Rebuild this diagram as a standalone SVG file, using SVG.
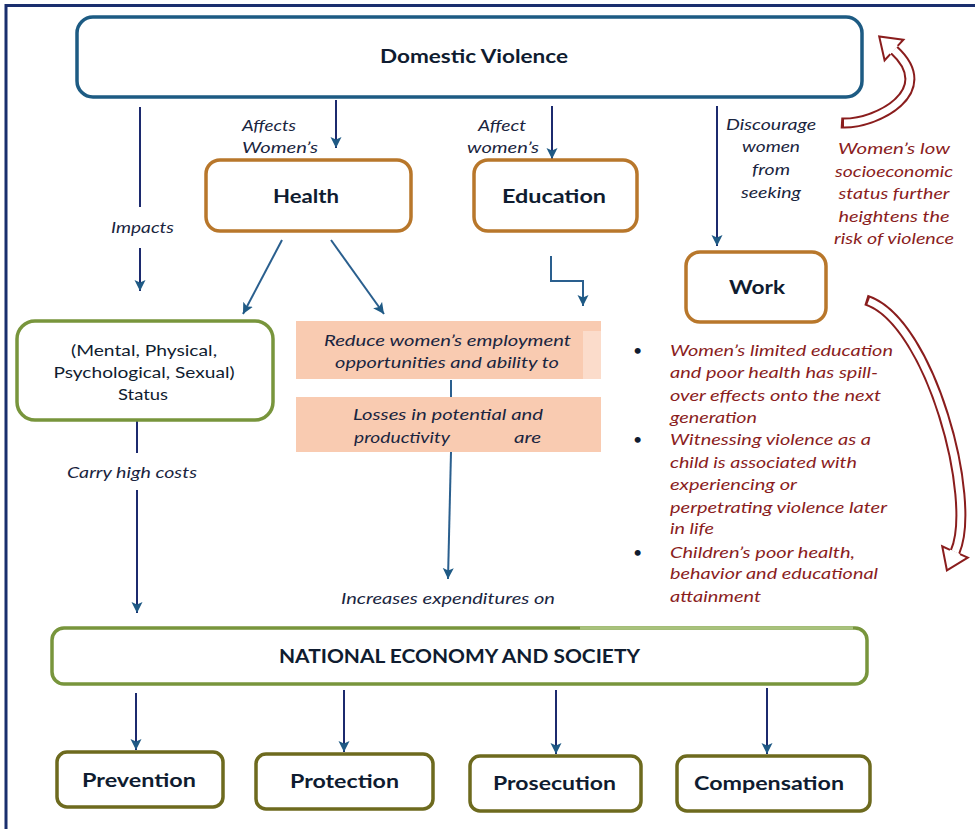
<svg xmlns="http://www.w3.org/2000/svg" width="975" height="829" viewBox="0 0 975 829">
<defs>
<style>
.bx{fill:#fff;stroke-width:3.5}
.dv{stroke:#1d5b83}
.or{stroke:#b8772b}
.gr{stroke:#78953c}
.ol{stroke:#6d6a1e}
text{font-family:Lato,"Liberation Sans",sans-serif}
.t{font-weight:700;fill:#0f1c30;font-size:18.5px}
.r{font-size:16px;fill:#0f1c30}
.i{font-style:italic;font-size:16px;fill:#1a2540}
.red{font-style:italic;font-size:16px;fill:#8a1d1d}
.ln{fill:none;stroke:#1c2a6e;stroke-width:2}
.lb{fill:none;stroke:#2a5f8e;stroke-width:2}
.rs{fill:none;stroke:#8a1d1d;stroke-width:11}
.ws{fill:none;stroke:#fff;stroke-width:7}
.hd{fill:#fff;stroke:#8a1d1d;stroke-width:2;stroke-linejoin:miter}
</style>
<marker id="ah" markerUnits="userSpaceOnUse" markerWidth="12" markerHeight="12" refX="11" refY="5.5" orient="auto">
<path d="M0,0 L11,5.5 L0,11 L2.5,5.5 Z" fill="#1f5a85"/>
</marker>
</defs>
<rect width="975" height="829" fill="#fff"/>
<path d="M6,829 V5.5 H975" fill="none" stroke="#1a2f6e" stroke-width="3"/>

<g id="connectors">
<line class="ln" x1="140" y1="107" x2="140" y2="207"/>
<line class="ln" x1="140" y1="248" x2="140" y2="291" marker-end="url(#ah)"/>
<line class="ln" x1="336" y1="100" x2="336" y2="148" marker-end="url(#ah)"/>
<line class="ln" x1="552" y1="106" x2="552" y2="159" marker-end="url(#ah)"/>
<line class="ln" x1="717" y1="106" x2="717" y2="246" marker-end="url(#ah)"/>
<line class="lb" x1="282" y1="240" x2="243" y2="314" marker-end="url(#ah)"/>
<line class="lb" x1="331" y1="240" x2="384" y2="314" marker-end="url(#ah)"/>
<path class="lb" d="M551,256 V281 H583 V306" marker-end="url(#ah)"/>
<line class="ln" x1="137" y1="421" x2="137" y2="453"/>
<line class="ln" x1="137" y1="490" x2="137" y2="613" marker-end="url(#ah)"/>
<line class="lb" x1="451" y1="380" x2="451" y2="397"/>
<line class="lb" x1="451" y1="452" x2="448" y2="579" marker-end="url(#ah)"/>
<line class="ln" x1="136" y1="693" x2="136" y2="750" marker-end="url(#ah)"/>
<line class="ln" x1="344" y1="690" x2="344" y2="752" marker-end="url(#ah)"/>
<line class="ln" x1="556" y1="690" x2="556" y2="754" marker-end="url(#ah)"/>
<line class="ln" x1="767" y1="688" x2="767" y2="754" marker-end="url(#ah)"/>
</g>

<g id="labels">
<text class="i" x="242" y="131" textLength="54" lengthAdjust="spacingAndGlyphs">Affects</text>
<text class="i" x="242" y="153" textLength="76" lengthAdjust="spacingAndGlyphs">Women’s</text>
<text class="i" x="478" y="131" textLength="48" lengthAdjust="spacingAndGlyphs">Affect</text>
<text class="i" x="467" y="153" textLength="72" lengthAdjust="spacingAndGlyphs">women’s</text>
<text class="i" x="111" y="233" textLength="63" lengthAdjust="spacingAndGlyphs">Impacts</text>
<text class="i" x="771" y="130" text-anchor="middle" textLength="90" lengthAdjust="spacingAndGlyphs">Discourage</text>
<text class="i" x="771" y="152" text-anchor="middle" textLength="58" lengthAdjust="spacingAndGlyphs">women</text>
<text class="i" x="771" y="175" text-anchor="middle" textLength="38" lengthAdjust="spacingAndGlyphs">from</text>
<text class="i" x="771" y="198" text-anchor="middle" textLength="60" lengthAdjust="spacingAndGlyphs">seeking</text>
<text class="i" x="67" y="478" textLength="130" lengthAdjust="spacingAndGlyphs">Carry high costs</text>
<text class="i" x="341" y="604" textLength="214" lengthAdjust="spacingAndGlyphs">Increases expenditures on</text>
</g>

<g id="feedback-top">
<path class="rs" d="M841,123 C875,125 940,92 894,50"/>
<path class="ws" pathLength="100" stroke-dasharray="0 2.5 200" d="M841,123 C875,125 940,92 894,50"/>
<polygon points="897.7,45.9 903.4,39.7 879.2,36.5 884.6,60.3 890.3,54.1" fill="#fff"/>
<path class="hd" d="M897.7,45.9 L903.4,39.7 L879.2,36.5 L884.6,60.3 L890.3,54.1"/>
<text class="red" x="894" y="154" text-anchor="middle" textLength="112" lengthAdjust="spacingAndGlyphs">Women’s low</text>
<text class="red" x="894" y="177" text-anchor="middle" textLength="118" lengthAdjust="spacingAndGlyphs">socioeconomic</text>
<text class="red" x="894" y="199" text-anchor="middle" textLength="111" lengthAdjust="spacingAndGlyphs">status further</text>
<text class="red" x="894" y="222" text-anchor="middle" textLength="111" lengthAdjust="spacingAndGlyphs">heightens the</text>
<text class="red" x="894" y="244" text-anchor="middle" textLength="120" lengthAdjust="spacingAndGlyphs">risk of violence</text>
</g>

<g id="feedback-bottom">
<path class="rs" d="M866,300 C930,320 978,500 955,552"/>
<path class="ws" pathLength="100" stroke-dasharray="0 1 200" d="M866,300 C930,320 978,500 955,552"/>
<polygon points="960,554.2 967.8,557.7 946.9,570.3 942.2,546.3 950,549.8" fill="#fff"/>
<path class="hd" d="M960,554.2 L967.8,557.7 L946.9,570.3 L942.2,546.3 L950,549.8"/>
</g>

<g id="dv">
<rect class="bx dv" x="77" y="17" width="785" height="80" rx="16"/>
<text class="t" x="380" y="63" font-size="17.5" textLength="188" lengthAdjust="spacingAndGlyphs">Domestic Violence</text>
</g>
<g id="health">
<rect class="bx or" x="206" y="160" width="205" height="71" rx="14"/>
<text class="t" x="273" y="203" textLength="66" lengthAdjust="spacingAndGlyphs">Health</text>
</g>
<g id="education">
<rect class="bx or" x="474" y="160" width="163" height="71" rx="14"/>
<text class="t" x="502" y="203" textLength="104" lengthAdjust="spacingAndGlyphs">Education</text>
</g>
<g id="work">
<rect class="bx or" x="686" y="252" width="140" height="70" rx="14"/>
<text class="t" x="729" y="294" textLength="56" lengthAdjust="spacingAndGlyphs">Work</text>
</g>
<g id="status">
<rect class="bx gr" x="17" y="321" width="256" height="99" rx="18"/>
<text class="r" x="144" y="356" text-anchor="middle" textLength="146" lengthAdjust="spacingAndGlyphs">(Mental, Physical,</text>
<text class="r" x="144" y="378" text-anchor="middle" textLength="181" lengthAdjust="spacingAndGlyphs">Psychological, Sexual)</text>
<text class="r" x="143" y="400" text-anchor="middle" textLength="50" lengthAdjust="spacingAndGlyphs">Status</text>
</g>
<g id="reduce">
<rect x="296" y="321" width="305" height="58" fill="#f9cbb1"/>
<rect x="583" y="331" width="18" height="48" fill="#fbdccb"/>
<text class="i" x="324" y="346" textLength="247" lengthAdjust="spacingAndGlyphs">Reduce women’s employment</text>
<text class="i" x="335" y="368" textLength="224" lengthAdjust="spacingAndGlyphs">opportunities and ability to</text>
</g>
<g id="losses">
<rect x="296" y="397" width="305" height="55" fill="#f9cbb1"/>
<text class="i" x="353" y="420" textLength="190" lengthAdjust="spacingAndGlyphs">Losses in potential and</text>
<text class="i" x="354" y="443" textLength="96" lengthAdjust="spacingAndGlyphs">productivity</text>
<text class="i" x="514" y="443" textLength="27" lengthAdjust="spacingAndGlyphs">are</text>
</g>
<g id="effects">
<text class="r" x="633" y="356">•</text>
<text class="r" x="633" y="445">•</text>
<text class="r" x="633" y="558">•</text>
<text class="red" x="670" y="356" textLength="223" lengthAdjust="spacingAndGlyphs">Women’s limited education</text>
<text class="red" x="670" y="378" textLength="208" lengthAdjust="spacingAndGlyphs">and poor health has spill-</text>
<text class="red" x="670" y="401" textLength="211" lengthAdjust="spacingAndGlyphs">over effects onto the next</text>
<text class="red" x="670" y="423" textLength="87" lengthAdjust="spacingAndGlyphs">generation</text>
<text class="red" x="670" y="445" textLength="201" lengthAdjust="spacingAndGlyphs">Witnessing violence as a</text>
<text class="red" x="670" y="468" textLength="187" lengthAdjust="spacingAndGlyphs">child is associated with</text>
<text class="red" x="670" y="490" textLength="127" lengthAdjust="spacingAndGlyphs">experiencing  or</text>
<text class="red" x="670" y="513" textLength="217" lengthAdjust="spacingAndGlyphs">perpetrating  violence later</text>
<text class="red" x="670" y="534" textLength="44" lengthAdjust="spacingAndGlyphs">in life</text>
<text class="red" x="670" y="558" textLength="185" lengthAdjust="spacingAndGlyphs">Children’s poor health,</text>
<text class="red" x="670" y="579" textLength="208" lengthAdjust="spacingAndGlyphs">behavior and educational</text>
<text class="red" x="670" y="602" textLength="91" lengthAdjust="spacingAndGlyphs">attainment</text>
</g>
<g id="national">
<rect class="bx gr" x="52" y="628" width="815" height="56" rx="12"/>
<path d="M580,628 H853" stroke="#a8c27c" stroke-width="3.5" fill="none"/>
<text class="t" x="279" y="663" font-size="16" textLength="361" lengthAdjust="spacingAndGlyphs">NATIONAL ECONOMY AND SOCIETY</text>
</g>
<g id="prevention">
<rect class="bx ol" x="57" y="752" width="166" height="55" rx="10"/>
<text class="t" x="82" y="787" textLength="114" lengthAdjust="spacingAndGlyphs">Prevention</text>
</g>
<g id="protection">
<rect class="bx ol" x="256" y="754" width="177" height="55" rx="10"/>
<text class="t" x="290" y="788" textLength="109" lengthAdjust="spacingAndGlyphs">Protection</text>
</g>
<g id="prosecution">
<rect class="bx ol" x="470" y="756" width="171" height="55" rx="10"/>
<text class="t" x="493" y="790" textLength="123" lengthAdjust="spacingAndGlyphs">Prosecution</text>
</g>
<g id="compensation">
<rect class="bx ol" x="677" y="756" width="193" height="55" rx="10"/>
<text class="t" x="694" y="790" textLength="150" lengthAdjust="spacingAndGlyphs">Compensation</text>
</g>
</svg>
